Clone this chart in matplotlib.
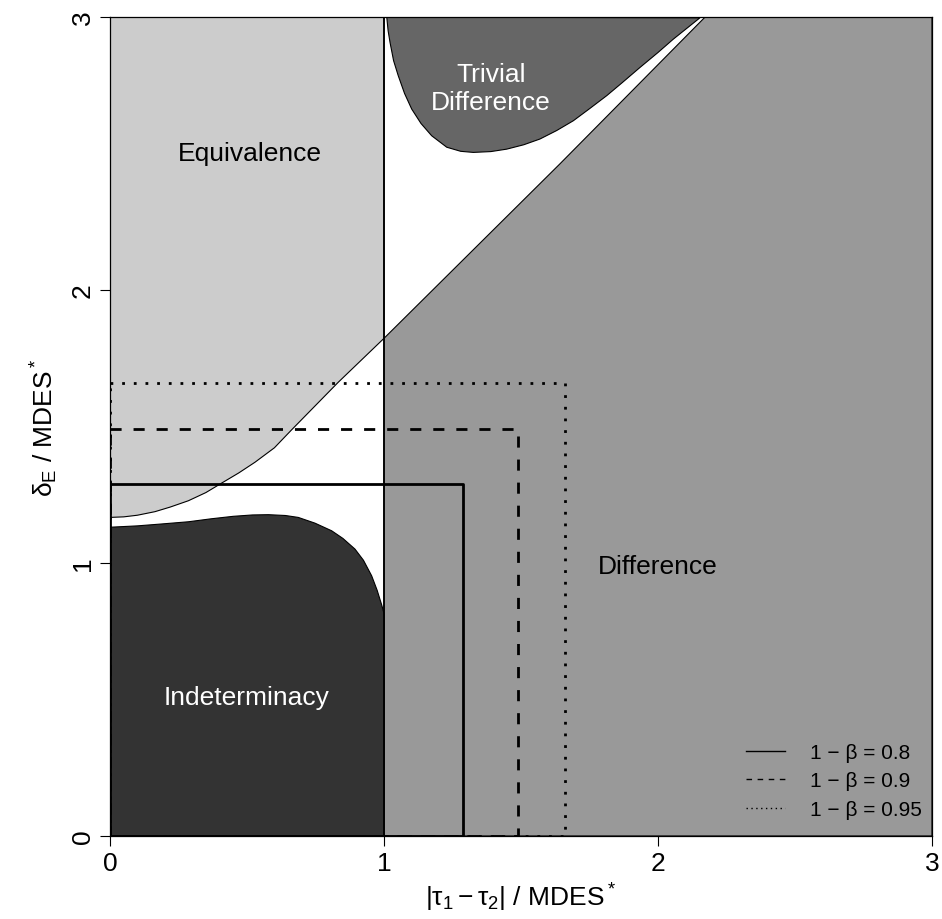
import matplotlib
matplotlib.use("Agg")
import matplotlib.pyplot as plt
from matplotlib.lines import Line2D

plt.rcParams['font.family'] = ['Liberation Sans', 'DejaVu Sans']
plt.rcParams['mathtext.fontset'] = 'custom'
plt.rcParams['mathtext.rm'] = 'Liberation Sans'
plt.rcParams['mathtext.it'] = 'Liberation Sans'
plt.rcParams['mathtext.bf'] = 'Liberation Sans:bold'

# Boundary between Equivalence (above) / Difference (below-right) and the white zone
eq_x = [0.00, 0.05, 0.10, 0.164, 0.22, 0.286, 0.35, 0.408, 0.47, 0.529, 0.60, 0.663,
        0.75, 0.833, 1.00, 1.642, 2.172]
eq_y = [1.167, 1.169, 1.175, 1.188, 1.205, 1.228, 1.258, 1.293, 1.330, 1.369, 1.422, 1.488,
        1.577, 1.662, 1.823, 2.462, 3.00]

# Upper boundary of Indeterminacy region
ind_x = [0.00, 0.10, 0.189, 0.286, 0.37, 0.45, 0.52, 0.578, 0.64, 0.687, 0.748, 0.809,
         0.85, 0.894, 0.925, 0.955, 0.975, 0.992, 1.00]
ind_y = [1.131, 1.136, 1.143, 1.151, 1.162, 1.171, 1.176, 1.177, 1.174, 1.167, 1.146, 1.118,
         1.090, 1.051, 1.010, 0.953, 0.900, 0.845, 0.815]

# Lower boundary of Trivial Difference region
triv_x = [1.010, 1.015, 1.022, 1.035, 1.052, 1.075, 1.101, 1.135, 1.174, 1.229, 1.28, 1.326,
          1.39, 1.448, 1.51, 1.569, 1.63, 1.691, 1.75, 1.813, 1.87, 1.934, 2.00, 2.056, 2.153]
triv_y = [3.000, 2.950, 2.907, 2.840, 2.785, 2.720, 2.663, 2.610, 2.565, 2.523, 2.508, 2.504,
          2.507, 2.516, 2.532, 2.553, 2.584, 2.620, 2.664, 2.712, 2.760, 2.815, 2.870, 2.919, 2.997]

# Power rectangles
power_levels = ["0.8", "0.9", "0.95"]
rect_sizes = [1.29, 1.49, 1.66]

region_labels = ["Equivalence", "Trivial\nDifference", "Difference", "Indeterminacy"]
label_x = [0.51, 1.39, 2.00, 0.50]
label_y = [2.50, 2.74, 0.99, 0.51]

fig = plt.figure(figsize=(9.42, 9.2), dpi=100)
ax = fig.add_axes([110/942, 83/920, 822/942, 819/920])
ax.set_xlim(0, 3)
ax.set_ylim(0, 3)

edge_lw = 0.8
# Equivalence
n1 = eq_x.index(1.00) + 1
ax.fill(eq_x[:n1] + [1.0, 0.0], eq_y[:n1] + [3.0, 3.0], facecolor='#cccccc',
        edgecolor='black', lw=edge_lw, zorder=1)
# Difference
ax.fill(eq_x[n1 - 1:] + [3.0, 3.0, 1.0], eq_y[n1 - 1:] + [3.0, 0.0, 0.0], facecolor='#999999',
        edgecolor='black', lw=edge_lw, zorder=1)
# Trivial difference
ax.fill(triv_x, triv_y, facecolor='#666666', edgecolor='black', lw=edge_lw, zorder=1)
# Indeterminacy
ax.fill(ind_x + [1.0, 0.0], ind_y + [0.0, 0.0], facecolor='#333333',
        edgecolor='black', lw=edge_lw, zorder=1)

ax.axvline(1.0, color='black', lw=1.3, zorder=2)

styles = ['-', (0, (4, 4.3)), (0, (1, 3.2))]
for s, ls in zip(rect_sizes, styles):
    ax.plot([0, s, s, 0, 0], [s, s, 0, 0, s], color='black', lw=2.0,
            linestyle=ls, zorder=3, solid_capstyle='butt', dash_capstyle='butt')

colors = ['black', 'white', 'black', 'white']
for t, x, y, c in zip(region_labels, label_x, label_y, colors):
    ax.text(x, y, t, color=c, fontsize=19, ha='center', va='center', zorder=4,
            linespacing=1.2)

handles = [Line2D([0], [0], color='black', lw=1.0, linestyle=ls) for ls in
           ['-', (0, (4, 4)), (0, (1, 2.5))]]
labels = ['1 \u2212 \u03b2 = %s' % p for p in power_levels]
ax.legend(handles, labels, loc='lower right', bbox_to_anchor=(0.988, 0.021),
          frameon=False, fontsize=15, handlelength=1.9, handletextpad=1.2,
          labelspacing=0.45, borderpad=0, borderaxespad=0)

ax.set_xticks([0, 1, 2, 3])
ax.set_yticks([0, 1, 2, 3])
ax.tick_params(direction='out', length=7, width=0.8, labelsize=19, pad=4)
for lab in ax.get_yticklabels():
    lab.set_rotation(90)
    lab.set_va('center')

ax.set_xlabel(r'$|\tau_1 - \tau_2|\ /\ \mathrm{MDES}^*$', fontsize=19, labelpad=4)
ax.set_ylabel(r'$\delta_\mathrm{E}\ /\ \mathrm{MDES}^*$', fontsize=19, labelpad=8)
for sp in ax.spines.values():
    sp.set_linewidth(0.9)
    sp.set_zorder(5)

fig.savefig('out.png', dpi=100)
